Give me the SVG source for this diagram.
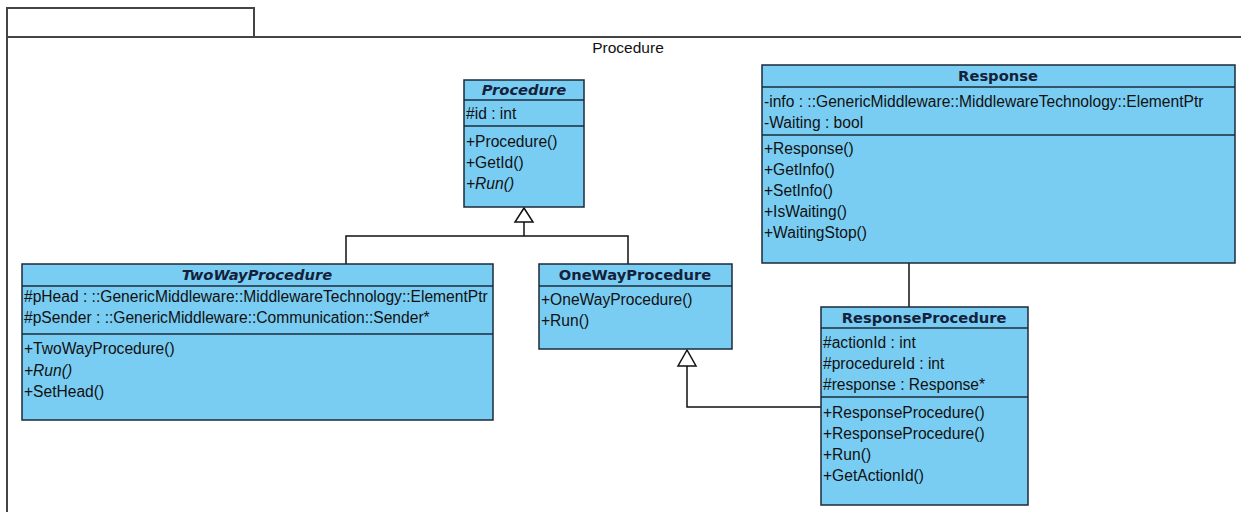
<svg xmlns="http://www.w3.org/2000/svg" width="1241" height="512" viewBox="0 0 1241 512">
  <style>
    .frame { fill: #ffffff; stroke: #444444; stroke-width: 2; }
    .box { fill: #79cdf3; stroke: #1b2a3a; stroke-width: 1.5; }
    .sep { stroke: #1b2a3a; stroke-width: 1.5; }
    .head { font-family: "DejaVu Sans", sans-serif; font-weight: bold; font-size: 14.7px; fill: #14213a; text-anchor: middle; }
    .abstract { font-style: italic; }
    .row { font-family: "Liberation Sans", Arial, sans-serif; font-size: 15.6px; fill: #111111; }
    .it { font-style: italic; }
    .label { font-family: "Liberation Sans", Arial, sans-serif; font-size: 15.5px; fill: #111111; text-anchor: middle; }
    .link { fill: none; stroke: #111111; stroke-width: 1.5; }
    .tri { fill: #ffffff; stroke: #111111; stroke-width: 1.5; }
  </style>

  <rect width="1241" height="512" fill="#ffffff"/>

  <!-- package frame -->
  <g id="package-Procedure">
    <rect class="frame" x="7" y="8" width="247" height="29"/>
    <rect class="frame" x="7" y="37" width="1250" height="490"/>
    <text class="label" x="628" y="53">Procedure</text>
  </g>

  <!-- connectors -->
  <g id="connectors">
    <polyline class="link" points="524,222 524,236"/>
    <polyline class="link" points="346,264 346,236 628,236 628,264"/>
    <polygon class="tri" points="524,208 515,222 533,222"/>
    <polyline class="link" points="687,366 687,407 821,407"/>
    <polygon class="tri" points="687,350 678,366 696,366"/>
    <line class="link" x1="909" y1="263" x2="909" y2="307"/>
  </g>

  <!-- Procedure -->
  <g id="class-Procedure">
    <rect class="box" x="464" y="80" width="120" height="127"/>
    <line class="sep" x1="464" y1="100" x2="584" y2="100"/>
    <line class="sep" x1="464" y1="126" x2="584" y2="126"/>
    <text class="head abstract" x="524" y="95">Procedure</text>
    <text class="row" x="466" y="119">#id : int</text>
    <text class="row" x="466" y="147">+Procedure()</text>
    <text class="row" x="466" y="168">+GetId()</text>
    <text class="row it" x="466" y="189">+Run()</text>
  </g>

  <!-- Response -->
  <g id="class-Response">
    <rect class="box" x="762" y="65" width="473" height="198"/>
    <line class="sep" x1="762" y1="87" x2="1235" y2="87"/>
    <line class="sep" x1="762" y1="135" x2="1235" y2="135"/>
    <text class="head" x="998" y="81">Response</text>
    <text class="row" x="764" y="107">-info : ::GenericMiddleware::MiddlewareTechnology::ElementPtr</text>
    <text class="row" x="764" y="128">-Waiting : bool</text>
    <text class="row" x="764" y="154">+Response()</text>
    <text class="row" x="764" y="175">+GetInfo()</text>
    <text class="row" x="764" y="196">+SetInfo()</text>
    <text class="row" x="764" y="217">+IsWaiting()</text>
    <text class="row" x="764" y="238">+WaitingStop()</text>
  </g>

  <!-- TwoWayProcedure -->
  <g id="class-TwoWayProcedure">
    <rect class="box" x="22" y="264" width="471" height="156"/>
    <line class="sep" x1="22" y1="286" x2="493" y2="286"/>
    <line class="sep" x1="22" y1="334" x2="493" y2="334"/>
    <text class="head abstract" x="257" y="280">TwoWayProcedure</text>
    <text class="row" x="24" y="302">#pHead : ::GenericMiddleware::MiddlewareTechnology::ElementPtr</text>
    <text class="row" x="24" y="323">#pSender : ::GenericMiddleware::Communication::Sender*</text>
    <text class="row" x="24" y="354">+TwoWayProcedure()</text>
    <text class="row it" x="24" y="376">+Run()</text>
    <text class="row" x="24" y="397">+SetHead()</text>
  </g>

  <!-- OneWayProcedure -->
  <g id="class-OneWayProcedure">
    <rect class="box" x="539" y="264" width="193" height="85"/>
    <line class="sep" x1="539" y1="286" x2="732" y2="286"/>
    <text class="head" x="635" y="280">OneWayProcedure</text>
    <text class="row" x="541" y="305">+OneWayProcedure()</text>
    <text class="row" x="541" y="326">+Run()</text>
  </g>

  <!-- ResponseProcedure -->
  <g id="class-ResponseProcedure">
    <rect class="box" x="821" y="307" width="207" height="198"/>
    <line class="sep" x1="821" y1="328" x2="1028" y2="328"/>
    <line class="sep" x1="821" y1="397" x2="1028" y2="397"/>
    <text class="head" x="924" y="323">ResponseProcedure</text>
    <text class="row" x="823" y="348">#actionId : int</text>
    <text class="row" x="823" y="369">#procedureId : int</text>
    <text class="row" x="823" y="390">#response : Response*</text>
    <text class="row" x="823" y="418">+ResponseProcedure()</text>
    <text class="row" x="823" y="439">+ResponseProcedure()</text>
    <text class="row" x="823" y="460">+Run()</text>
    <text class="row" x="823" y="481">+GetActionId()</text>
  </g>
</svg>
